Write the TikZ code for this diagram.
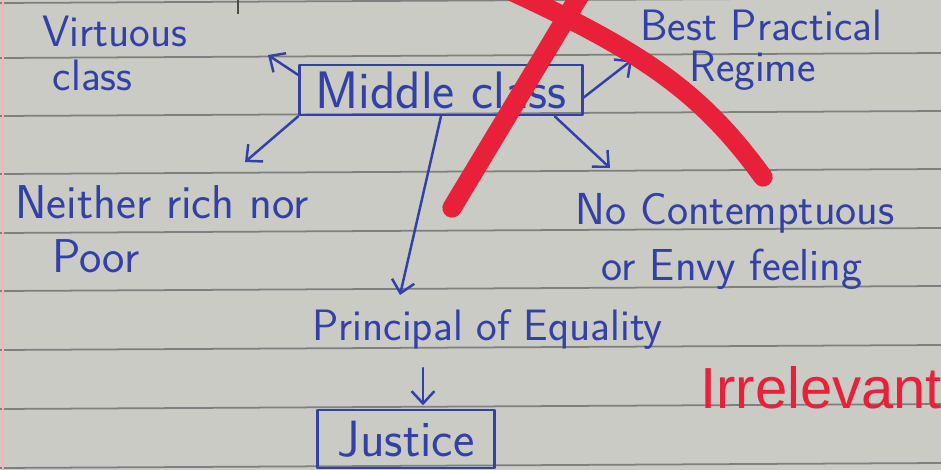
\documentclass[tikz,border=0pt]{standalone}
\usepackage{fontspec}
\newfontfamily\arialfont{Liberation Sans}
\usetikzlibrary{arrows.meta}
\definecolor{paper}{RGB}{201,203,196}
\definecolor{rule}{RGB}{125,128,126}
\definecolor{ink}{RGB}{50,64,168}
\definecolor{marker}{RGB}{232,32,58}

\begin{document}
\begin{tikzpicture}[x=0.02cm,y=-0.02cm,
    hand/.style={text=ink,inner sep=0pt,anchor=north west,align=left},
    pen/.style={draw=ink,line width=1.4pt,line cap=round,line join=round},
    penarrow/.style={pen,-{Straight Barb[length=7pt,width=13pt,line width=1.4pt]}},
    framed/.style={pen,text=ink,inner sep=0pt,font=\sffamily\fontsize{29}{32}\selectfont},
    strike/.style={draw=marker,line width=11pt,line cap=round}]
  \useasboundingbox (0,0) rectangle (941,470);
  \clip (0,0) rectangle (941,470);
  \fill[paper] (0,0) rectangle (941,470);
  % ruled page
  \foreach \y in {1,56,114,172,231,289,348,407,466}
    \draw[rule,line width=1pt] (0,\y+2) -- (941,\y-3);
  \draw[marker!35,line width=1pt] (3,0) -- (3,470);
  \draw[rule!60!black,line width=1.5pt] (238,0) -- (238,14);

  % boxes
  \node (mid) [framed,font=\sffamily\fontsize{30}{32}\selectfont,minimum width=5.66cm,minimum height=1cm] at (441,90) {Middle class};
  \node (just) [framed,minimum width=3.54cm,minimum height=1.16cm] at (406,439) {Justice};

  % labels
  \node (virt) [hand,font=\sffamily\fontsize{25}{25}\selectfont] at (42,16) {Virtuous\\\hspace*{6pt}class};
  \node (best) [hand,font=\sffamily\fontsize{25}{23}\selectfont] at (640,10) {Best Practical\\\hspace*{28pt}Regime};
  \node (neither) [hand,font=\sffamily\fontsize{27}{31}\selectfont] at (15,185) {Neither rich nor\\\hspace*{21pt}Poor};
  \node (nocon) [hand,font=\sffamily\fontsize{25.5}{32}\selectfont] at (575,193) {No Contemptuous\\\hspace*{15pt}or Envy feeling};
  \node (princ) [hand,font=\sffamily\fontsize{25}{28}\selectfont] at (312,309) {Principal of Equality};

  % arrow ends
  \coordinate (tipvirt) at (268,55);
  \coordinate (tipbest) at (632,60);
  \coordinate (tipneither) at (245,162);
  \coordinate (tipnocon) at (610,168);
  \coordinate (tipprinc) at (400,295);
  \coordinate (peq) at (423,368);

  \draw[penarrow] (mid.174) -- (tipvirt);
  \draw[penarrow] (mid.-3) -- (tipbest);
  \draw[penarrow] (mid.south west) -- (tipneither);
  \draw[penarrow] (mid.-13) -- (tipnocon);
  \draw[penarrow] (mid.south) -- (tipprinc);
  \draw[penarrow,shorten >=2pt] (peq) -- (just.north -| peq);

  % red cross and note
  \draw[strike] (452,208) -- (592,-25);
  \draw[strike] (500,-14) .. controls (640,50) and (700,90) .. (763,177);
  \node (irr) [anchor=base west,text=marker,inner sep=0pt,font=\arialfont\fontsize{33}{36}\selectfont] at (700,408) {Irrelevant};
\end{tikzpicture}
\end{document}
